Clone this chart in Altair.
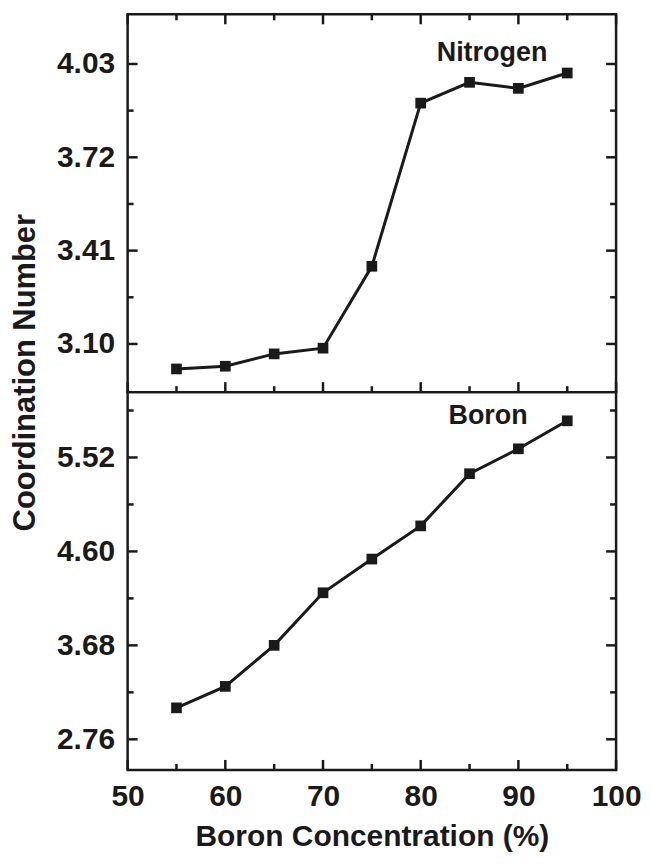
import altair as alt
import pandas as pd

# ---- data ----
conc = [55, 60, 65, 70, 75, 80, 85, 90, 95]
nitrogen = [3.017, 3.026, 3.067, 3.086, 3.358, 3.900, 3.969, 3.949, 4.000]
boron = [3.068, 3.278, 3.680, 4.195, 4.525, 4.850, 5.361, 5.605, 5.879]

x_major = [50, 60, 70, 80, 90, 100]
x_minor = [55, 65, 75, 85, 95]
n_major = [3.10, 3.41, 3.72, 4.03]
n_minor = [3.255, 3.565, 3.875]
b_major = [2.76, 3.68, 4.60, 5.52]
b_minor = [3.22, 4.14, 5.06, 5.98]

x_domain = [50, 100]
n_domain = [2.94, 4.195]
b_domain = [2.46, 6.16]

panel_labels = ["Nitrogen", "Boron"]
label_x = [87.3, 86.9]
label_y = [4.066, 5.926]

x_title = "Boron Concentration (%)"
y_title = "Coordination Number"

FONT = "Liberation Sans"
INK = "#1a1a1a"
W, H = 490, 379
MAJ, MIN = 10, 6


def panel(values, domain, ymajor, yminor, idx, bottom):
    df = pd.DataFrame({"conc": conc, "cn": values})
    xs = alt.Scale(domain=x_domain, nice=False, zero=False)
    ys = alt.Scale(domain=domain, nice=False, zero=False)

    if bottom:
        x_lab = alt.Axis(
            orient="bottom", values=x_major, ticks=False, domain=False,
            grid=False, labelFont=FONT, labelFontSize=30,
            labelFontWeight="bold", labelColor=INK, labelFlush=False,
            labelOverlap=False, labelPadding=12,
            title=x_title, titleFont=FONT, titleFontSize=30,
            titleFontWeight="bold", titleColor=INK,
            titleBaseline="alphabetic", titleY=76,
        )
    else:
        x_lab = None

    y_kw = dict(
        orient="left", values=ymajor, format=".2f", ticks=False,
        domain=False, grid=False,
        labelFont=FONT, labelFontSize=30, labelFontWeight="bold",
        labelColor=INK, labelFlush=False, labelOverlap=False,
        labelPadding=13,
    )
    if bottom:
        y_lab = alt.Axis(title=None, **y_kw)
    else:
        y_lab = alt.Axis(
            title=y_title, titleFont=FONT, titleFontSize=31,
            titleFontWeight="bold", titleColor=INK,
            titleBaseline="alphabetic", titleX=-93, titleY=359, **y_kw
        )

    line = alt.Chart(df).mark_line(
        color=INK, strokeWidth=3,
        point=alt.OverlayMarkDef(shape="square", filled=True, size=115,
                                 color=INK, opacity=1),
    ).encode(
        x=alt.X("conc:Q", scale=xs, axis=x_lab),
        y=alt.Y("cn:Q", scale=ys, axis=y_lab),
    )
    layers = [line]

    # inward tick marks on all four edges, placed by the shared scales
    def yticks(vals, a, b):
        return alt.Chart(pd.DataFrame({"v": vals})).mark_rule(
            color=INK, strokeWidth=2.5
        ).encode(y=alt.Y("v:Q", scale=ys, axis=None),
                 x=alt.value(a), x2=alt.value(b))

    def xticks(vals, a, b):
        return alt.Chart(pd.DataFrame({"v": vals})).mark_rule(
            color=INK, strokeWidth=2.5
        ).encode(x=alt.X("v:Q", scale=xs, axis=None),
                 y=alt.value(a), y2=alt.value(b))

    layers += [
        yticks(ymajor, 0, MAJ), yticks(yminor, 0, MIN),
        yticks(ymajor, W, W - MAJ), yticks(yminor, W, W - MIN),
        xticks(x_major, H, H - MAJ), xticks(x_minor, H, H - MIN),
    ]
    if not bottom:
        layers += [xticks(x_major, 0, MAJ), xticks(x_minor, 0, MIN)]

    lab = pd.DataFrame({"label": [panel_labels[idx]], "x": [label_x[idx]],
                        "y": [label_y[idx]]})
    text = alt.Chart(lab).mark_text(
        font=FONT, fontSize=27, fontWeight="bold", color=INK,
        align="center", baseline="middle",
    ).encode(
        x=alt.X("x:Q", scale=xs, axis=None),
        y=alt.Y("y:Q", scale=ys, axis=None),
        text="label:N",
    )
    layers.append(text)
    return alt.layer(*layers).resolve_axis(
        x="independent", y="independent"
    ).properties(width=W, height=H)


top = panel(nitrogen, n_domain, n_major, n_minor, 0, False)
bot = panel(boron, b_domain, b_major, b_minor, 1, True)

chart = alt.vconcat(top, bot, spacing=0, bounds="flush").configure_view(
    stroke=INK, strokeWidth=2.5
).properties(
    padding={"left": 0, "top": 2, "right": 0, "bottom": 0},
    background="white",
)

chart.save("out.html", embed_options={"renderer": "svg", "actions": False})
